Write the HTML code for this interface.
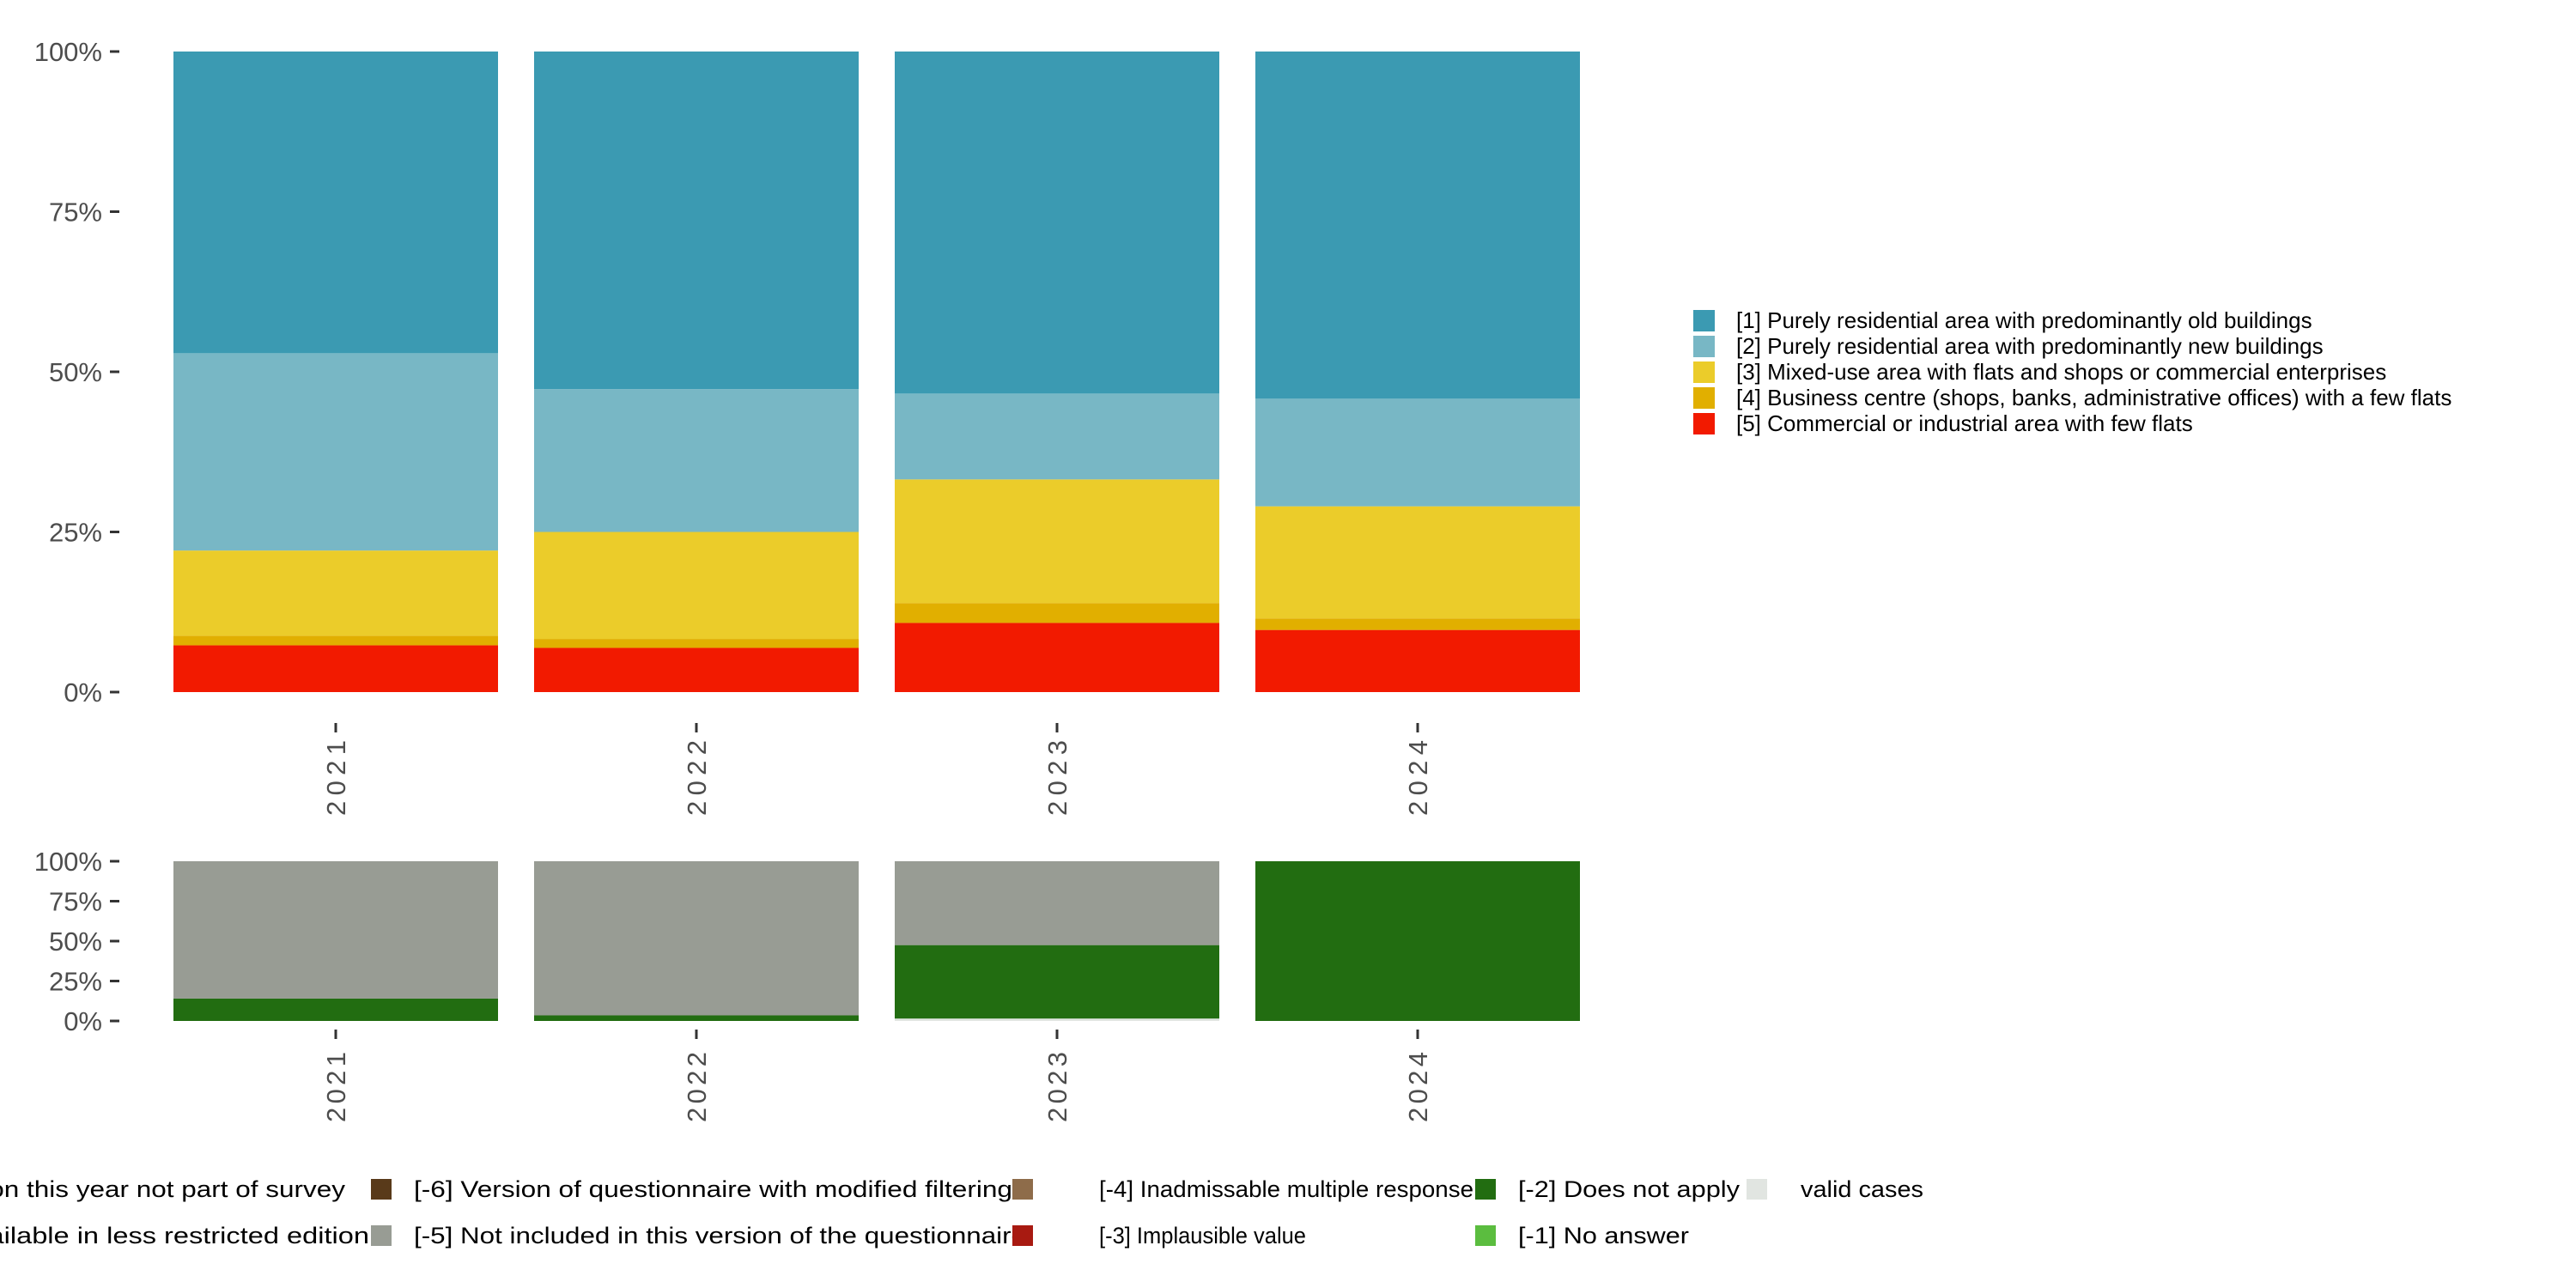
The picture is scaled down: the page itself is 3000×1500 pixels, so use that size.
<!DOCTYPE html>
<html><head><meta charset="utf-8"><style>
html,body{margin:0;padding:0;background:#fff;}
svg{display:block;font-family:"Liberation Sans",sans-serif;}
</style></head><body>
<svg id="chart" width="3000" height="1500" viewBox="0 0 3000 1500" xmlns="http://www.w3.org/2000/svg">
<g id="top"></g>
<g id="bottom"></g>
<g id="legend-top"></g>
<g id="legend-bottom"></g>
</svg>
<script>
const years = ["2021","2022","2023","2024"];
const cat1 = [7.3, 6.9, 10.8, 9.7];   // [5] Commercial or industrial
const cat2 = [1.5, 1.4, 3.1, 1.8];    // [4] Business centre
const cat3 = [13.3, 16.7, 19.3, 17.5];// [3] Mixed-use
const cat4 = [30.8, 22.3, 13.4, 16.8];// [2] new buildings
const cat5 = [47.1, 52.7, 53.4, 54.2];// [1] old buildings
const validCases = [0, 0, 1.5, 0];
const doesNotApply = [14, 3.5, 46, 100];
const notIncluded = [86, 96.5, 52.5, 0];
const yTicks = [0, 25, 50, 75, 100];
const yTickLabels = ["0%", "25%", "50%", "75%", "100%"];

const NS = "http://www.w3.org/2000/svg";
function mk(tag, attrs, parent){const e=document.createElementNS(NS,tag);for(const k in attrs)e.setAttribute(k,attrs[k]);parent.appendChild(e);return e;}

const barLeft0 = 202, barStep = 420, barW = 378;
function xBar(i){return barLeft0 + i*barStep;}

function drawPanel(g, y0, y100, stacks, colors, names, tickLabelY, yearY, yearLen){
  const ys = v => y0 - (y0-y100)*v/100;
  years.forEach((yr,i)=>{
    let acc = 0;
    stacks.forEach((arr,s)=>{
      const v = arr[i];
      if (v>0){
        const r = mk("rect",{x:xBar(i),y:ys(acc+v),width:barW,height:ys(acc)-ys(acc+v),fill:colors[s]},g);
        
        
      }
      acc += v;
    });
    const cx = xBar(i)+barW/2;
    const tk = mk("line",{x1:cx,x2:cx,y1:tickLabelY,y2:tickLabelY+11,stroke:"#333","stroke-width":3},g);
    
    
    const t = mk("text",{x:0,y:0,"font-size":31,fill:"#4d4d4d","text-anchor":"end",textLength:yearLen,lengthAdjust:"spacing",transform:`translate(${cx+11},${yearY}) rotate(-90)`},g);
    t.textContent = yr;
    
    
  });
  yTicks.forEach((v,k)=>{
    const y = ys(v);
    const l = mk("line",{x1:128,x2:139,y1:y,y2:y,stroke:"#333","stroke-width":3},g);
    
    
    const t = mk("text",{x:119,y:y+11,"font-size":31,fill:"#4d4d4d","text-anchor":"end"},g);
    t.textContent = yTickLabels[k];
    
    
  });
}

drawPanel(document.getElementById("top"), 806, 60,
  [cat1,cat2,cat3,cat4,cat5],
  ["#f21a00","#e1af00","#ebcc2a","#78b7c5","#3b9ab2"],
  ["cat5","cat4","cat3","cat2","cat1"], 842, 862, 88);
drawPanel(document.getElementById("bottom"), 1189, 1003,
  [validCases,doesNotApply,notIncluded],
  ["#e1e5e1","#226d11","#989c94"],
  ["valid","does-not-apply","not-included"], 1199, 1225, 82);

// top legend
const lt = document.getElementById("legend-top");
const ltLabels = ["[1] Purely residential area with predominantly old buildings","[2] Purely residential area with predominantly new buildings","[3] Mixed-use area with flats and shops or commercial enterprises","[4] Business centre (shops, banks, administrative offices) with a few flats","[5] Commercial or industrial area with few flats"];
const ltColors = ["#3b9ab2","#78b7c5","#ebcc2a","#e1af00","#f21a00"];
ltLabels.forEach((lab,i)=>{
  const y = 361 + i*30;
  const r = mk("rect",{x:1972,y:y,width:25,height:25,fill:ltColors[i]},lt);
  
  
  const t = mk("text",{x:2022,y:y+21,"font-size":26,fill:"#000"},lt);
  t.textContent = lab;
  
  
});

// bottom legend
const lb = document.getElementById("legend-bottom");
const rows = [1373, 1427];
const lbItems = [
  {end:402, row:0, w:560, label:"[-8] Question this year not part of survey"},
  {end:430, row:1, w:610, label:"[-7] Only available in less restricted edition"},
  {sq:432, tx:482, row:0, w:697, color:"#593a1a", label:"[-6] Version of questionnaire with modified filtering"},
  {sq:432, tx:482, row:1, w:713, color:"#989c94", label:"[-5] Not included in this version of the questionnaire"},
  {sq:1179, tx:1280, row:0, w:436, color:"#8e6c4a", label:"[-4] Inadmissable multiple response"},
  {sq:1179, tx:1280, row:1, w:241, color:"#a81a11", label:"[-3] Implausible value"},
  {sq:1718, tx:1768, row:0, w:258, color:"#226d11", label:"[-2] Does not apply"},
  {sq:1718, tx:1768, row:1, w:199, color:"#5bbd3f", label:"[-1] No answer"},
  {sq:2034, tx:2097, row:0, w:143, color:"#e1e5e1", label:"valid cases"}
];
lbItems.forEach((it,i)=>{
  const y = rows[it.row];
  if (it.sq !== undefined){
    const r = mk("rect",{x:it.sq,y:y,width:24,height:24,fill:it.color},lb);
    
    
    const t = mk("text",{x:it.tx,y:y+21,"font-size":27,fill:"#000",textLength:it.w,lengthAdjust:"spacingAndGlyphs"},lb);
    t.textContent = it.label;
    
    
  } else {
    const t = mk("text",{x:it.end,y:y+21,"font-size":27,fill:"#000","text-anchor":"end",textLength:it.w,lengthAdjust:"spacingAndGlyphs"},lb);
    t.textContent = it.label;
    
    
  }
});
</script>
</body></html>
